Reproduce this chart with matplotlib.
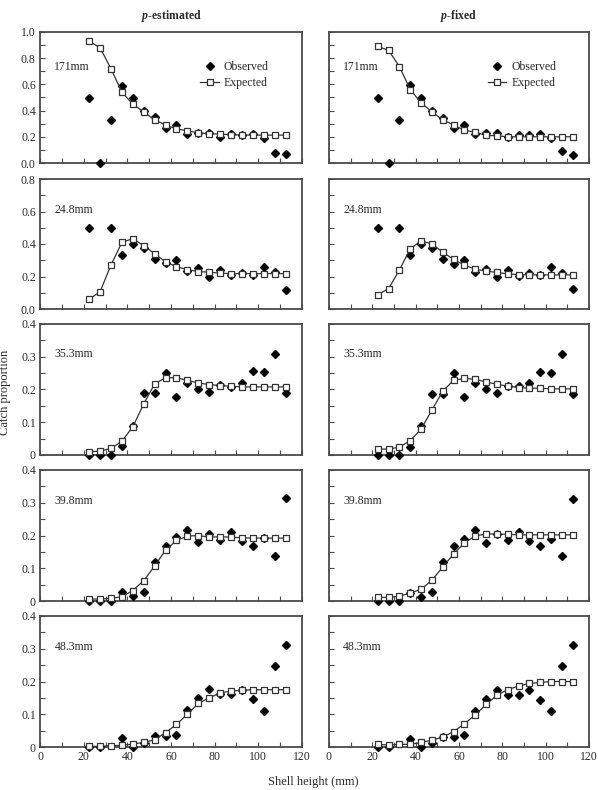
import numpy as np
import matplotlib
matplotlib.use("Agg")
import matplotlib.pyplot as plt
from matplotlib.ticker import MultipleLocator, FixedLocator

plt.rcParams['font.family'] = ['Liberation Serif', 'DejaVu Serif']
plt.rcParams['mathtext.fontset'] = 'custom'
plt.rcParams['mathtext.rm'] = 'Liberation Serif'
plt.rcParams['mathtext.it'] = 'Liberation Serif:italic'
plt.rcParams['mathtext.bf'] = 'Liberation Serif:bold'
try:
    plt.rcParams['mathtext.bfit'] = 'Liberation Serif:italic:bold'
except Exception:
    pass

# ---------------- data ----------------
shell_height = [22.5, 27.5, 32.5, 37.5, 42.5, 47.5, 52.5, 57.5, 62.5, 67.5,
                72.5, 77.5, 82.5, 87.5, 92.5, 97.5, 102.5, 107.5, 112.5]
mesh_labels = ["171mm", "24.8mm", "35.3mm", "39.8mm", "48.3mm"]
column_titles = ["p-estimated", "p-fixed"]

nan = np.nan
# p-estimated
obs_est_171 = [0.50, 0.0, 0.33, 0.59, 0.50, 0.40, 0.35, 0.27, 0.29, 0.22,
               0.23, 0.23, 0.20, 0.22, 0.21, 0.22, 0.19, 0.08, 0.07]
exp_est_171 = [0.93, 0.88, 0.72, 0.54, 0.45, 0.39, 0.33, 0.29, 0.26, 0.247,
               0.23, 0.224, 0.22, 0.216, 0.214, 0.213, 0.213, 0.213, 0.213]
obs_est_248 = [0.50, nan, 0.50, 0.335, 0.40, 0.375, 0.31, 0.285, 0.30, 0.235,
               0.25, 0.20, 0.24, 0.21, 0.22, 0.21, 0.26, 0.225, 0.12]
exp_est_248 = [0.06, 0.106, 0.27, 0.41, 0.433, 0.39, 0.34, 0.29, 0.26, 0.243,
               0.23, 0.227, 0.22, 0.218, 0.218, 0.218, 0.218, 0.218, 0.218]
obs_est_353 = [0.0, 0.0, 0.0, 0.027, 0.09, 0.19, 0.19, 0.25, 0.177, 0.22,
               0.202, 0.193, 0.213, 0.209, 0.219, 0.255, 0.253, 0.308, 0.19]
exp_est_353 = [0.010, 0.012, 0.020, 0.042, 0.086, 0.156, 0.217, 0.236, 0.236, 0.228,
               0.22, 0.215, 0.212, 0.21, 0.208, 0.208, 0.208, 0.208, 0.208]
obs_est_398 = [0.0, 0.0, 0.0, 0.026, 0.014, 0.027, 0.12, 0.167, 0.196, 0.218,
               0.181, 0.205, 0.187, 0.21, 0.183, 0.168, 0.191, 0.138, 0.313]
exp_est_398 = [0.006, 0.006, 0.008, 0.013, 0.032, 0.062, 0.107, 0.155, 0.185, 0.198,
               0.20, 0.195, 0.196, 0.195, 0.193, 0.192, 0.192, 0.192, 0.192]
obs_est_483 = [0.0, 0.0, nan, 0.026, 0.0, 0.012, 0.033, 0.033, 0.036, 0.114,
               0.149, 0.177, 0.161, 0.161, 0.173, 0.146, 0.11, 0.248, 0.312]
exp_est_483 = [0.002, 0.002, 0.004, 0.005, 0.009, 0.014, 0.022, 0.044, 0.069, 0.10,
               0.133, 0.15, 0.165, 0.171, 0.173, 0.175, 0.175, 0.175, 0.175]
# p-fixed
obs_fix_171 = [0.50, 0.0, 0.33, 0.595, 0.50, 0.395, 0.34, 0.27, 0.29, 0.22,
               0.23, 0.23, 0.20, 0.21, 0.21, 0.22, 0.19, 0.09, 0.06]
exp_fix_171 = [0.89, 0.86, 0.736, 0.56, 0.46, 0.39, 0.33, 0.29, 0.25, 0.235,
               0.21, 0.208, 0.20, 0.20, 0.20, 0.20, 0.20, 0.20, 0.20]
obs_fix_248 = [0.50, nan, 0.50, 0.33, 0.40, 0.375, 0.31, 0.28, 0.30, 0.23,
               0.245, 0.195, 0.24, 0.205, 0.22, 0.21, 0.26, 0.22, 0.125]
exp_fix_248 = [0.088, 0.125, 0.24, 0.37, 0.42, 0.40, 0.35, 0.305, 0.27, 0.245,
               0.233, 0.225, 0.216, 0.212, 0.21, 0.21, 0.21, 0.21, 0.21]
obs_fix_353 = [0.0, 0.0, 0.0, 0.025, 0.09, 0.187, 0.187, 0.25, 0.177, 0.22,
               0.203, 0.19, 0.21, 0.21, 0.22, 0.252, 0.25, 0.308, 0.186]
exp_fix_353 = [0.018, 0.018, 0.024, 0.044, 0.079, 0.137, 0.195, 0.228, 0.234, 0.231,
               0.223, 0.216, 0.21, 0.206, 0.204, 0.204, 0.202, 0.202, 0.202]
obs_fix_398 = [0.0, 0.0, 0.0, 0.025, 0.012, 0.026, 0.12, 0.167, 0.19, 0.216,
               0.178, 0.205, 0.187, 0.21, 0.183, 0.169, 0.19, 0.137, 0.312]
exp_fix_398 = [0.011, 0.011, 0.015, 0.024, 0.036, 0.063, 0.104, 0.143, 0.178, 0.198,
               0.205, 0.204, 0.204, 0.202, 0.202, 0.202, 0.202, 0.202, 0.202]
obs_fix_483 = [0.0, 0.0, nan, 0.025, 0.0, 0.012, 0.03, 0.03, 0.037, 0.11,
               0.147, 0.175, 0.16, 0.16, 0.173, 0.145, 0.109, 0.247, 0.311]
exp_fix_483 = [0.008, 0.006, 0.008, 0.008, 0.014, 0.021, 0.03, 0.047, 0.071, 0.098,
               0.13, 0.158, 0.175, 0.186, 0.194, 0.197, 0.20, 0.20, 0.20]

observed = [[obs_est_171, obs_fix_171], [obs_est_248, obs_fix_248],
            [obs_est_353, obs_fix_353], [obs_est_398, obs_fix_398],
            [obs_est_483, obs_fix_483]]
expected = [[exp_est_171, exp_fix_171], [exp_est_248, exp_fix_248],
            [exp_est_353, exp_fix_353], [exp_est_398, exp_fix_398],
            [exp_est_483, exp_fix_483]]

y_limits = [1.0, 0.8, 0.4, 0.4, 0.4]
y_major = [0.2, 0.2, 0.1, 0.1, 0.1]
y_ticklabels = [["0.0", "0.2", "0.4", "0.6", "0.8", "1.0"],
                ["0.0", "0.2", "0.4", "0.6", "0.8"],
                ["0", "0.1", "0.2", "0.3", "0.4"],
                ["0", "0.1", "0.2", "0.3", "0.4"],
                ["0", "0.1", "0.2", "0.3", "0.4"]]
x_ticklabels = ["0", "20", "40", "60", "80", "100", "120"]

# ---------------- layout ----------------
W, H = 598, 790
fig = plt.figure(figsize=(W / 100, H / 100), dpi=100)
col_px = [(40, 302), (329, 589)]
row_px = [(32, 163), (179, 309), (324, 455), (470, 601), (616, 747)]
label_y = [0.73, 0.765, 0.77, 0.765, 0.765]

frame_col = '#4a4a4a'
text_col = '#2a2a2a'
line_col = '#333333'

for r in range(5):
    for c in range(2):
        x0, x1 = col_px[c]
        t, b = row_px[r]
        ax = fig.add_axes([x0 / W, 1 - b / H, (x1 - x0) / W, (b - t) / H])
        ax.set_xlim(0, 120)
        ax.set_ylim(0, y_limits[r])
        ax.plot(shell_height, observed[r][c], linestyle='none', marker='D',
                markersize=4.0, color='black', clip_on=False, zorder=3,
                label='Observed')
        ax.plot(shell_height, expected[r][c], linestyle='-', linewidth=0.9,
                color=line_col, marker='s', markersize=4.4, markerfacecolor='white',
                markeredgecolor=line_col, markeredgewidth=0.9, clip_on=False,
                zorder=4, label='Expected')
        for s in ax.spines.values():
            s.set_color(frame_col)
            s.set_linewidth(1.3)
        ax.xaxis.set_major_locator(FixedLocator([float(v) for v in x_ticklabels]))
        ax.xaxis.set_minor_locator(MultipleLocator(10))
        ax.yaxis.set_major_locator(FixedLocator(
            [float(v) for v in y_ticklabels[r]]))
        ax.yaxis.set_minor_locator(MultipleLocator(y_major[r] / 2))
        ax.tick_params(which='both', direction='in', length=3.5, width=0.8,
                       color=frame_col, top=False, right=False,
                       labelsize=8.5, labelcolor=text_col, pad=3)
        if c == 0:
            ax.set_yticklabels(y_ticklabels[r])
        else:
            ax.set_yticklabels([])
        if r == 4:
            ax.set_xticklabels(x_ticklabels)
        else:
            ax.set_xticklabels([])
        ax.text(0.055, label_y[r], mesh_labels[r],
                transform=ax.transAxes, fontsize=8.5, color=text_col,
                ha='left', va='center')
        if r == 0:
            ax.legend(loc='upper right', bbox_to_anchor=(0.905, 0.84),
                      frameon=False, fontsize=8.5, handlelength=1.6,
                      handletextpad=0.4, borderpad=0.2, labelspacing=0.35,
                      labelcolor=text_col)
            title = column_titles[c]
            ax.set_title(r'$\mathbfit{p}$' + title[1:], fontsize=8.5,
                         fontweight='bold', color=text_col, pad=9)

fig.text(5 / W, 1 - 392 / H, 'Catch proportion', rotation=90, ha='center',
         va='center', fontsize=9, color=text_col)
fig.text(313 / W, 1 - 782 / H, 'Shell height (mm)', ha='center', va='center',
         fontsize=9, color=text_col)

fig.savefig('out.png', dpi=100)
